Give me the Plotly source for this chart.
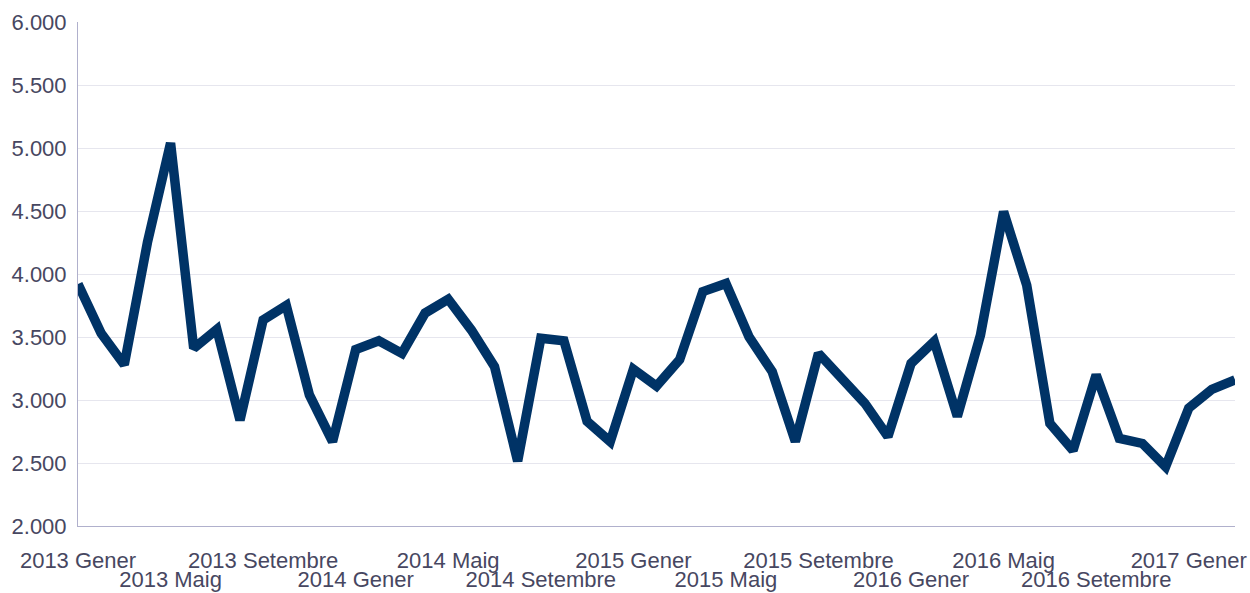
import plotly.graph_objects as go

month_names = ["Gener", "Febrer", "Març", "Abril", "Maig", "Juny", "Juliol",
               "Agost", "Setembre", "Octubre", "Novembre", "Desembre"]
years = [2013, 2014, 2015, 2016, 2017]
n_points = 51
categories = [f"{y} {m}" for y in years for m in month_names][:n_points]

values = [3920, 3530, 3280, 4250, 5040, 3410, 3560, 2840, 3635, 3750,
          3040, 2670, 3400, 3470, 3370, 3690, 3800, 3555, 3265, 2515,
          3490, 3470, 2830, 2670, 3245, 3110, 3320, 3860, 3925, 3500,
          3225, 2670, 3370, 3170, 2975, 2710, 3290, 3465, 2870, 3515,
          4495, 3910, 2815, 2600, 3200, 2695, 2655, 2470, 2935, 3085,
          3160]

tick_step = 4
tick_labels = categories[::tick_step]
row1_labels = tick_labels[0::2]
row2_labels = tick_labels[1::2]

y_ticks = [2000, 2500, 3000, 3500, 4000, 4500, 5000, 5500, 6000]

font_color = "#474761"
font_family = "Liberation Sans, Arial, sans-serif"
font_size = 22

fig = go.Figure()
fig.add_trace(go.Scatter(
    x=categories, y=values, mode="lines",
    line=dict(color="#003366", width=9.5),
    hoverinfo="skip", showlegend=False,
))
# invisible helper trace so the second label row shares the category scale
fig.add_trace(go.Scatter(
    x=categories, y=values, mode="lines", xaxis="x2",
    line=dict(color="rgba(0,0,0,0)", width=0),
    hoverinfo="skip", showlegend=False,
))

common_x = dict(
    type="category", range=[0, n_points - 1], tickmode="array",
    tickangle=0, showgrid=False, ticks="", zeroline=False, automargin=False,
    tickfont=dict(size=font_size, color=font_color, family=font_family),
)

fig.update_layout(
    width=1250, height=593,
    margin=dict(l=78, r=15, t=22, b=67),
    paper_bgcolor="white", plot_bgcolor="white",
    separators=",.",
    font=dict(family=font_family, size=font_size, color=font_color),
    xaxis=dict(**common_x, tickvals=row1_labels, ticktext=row1_labels,
               showline=True, linecolor="#b0b0cc", linewidth=1,
               ticklabelstandoff=15),
    xaxis2=dict(**common_x, tickvals=row2_labels, ticktext=row2_labels,
                overlaying="x", side="bottom", anchor="y", showline=False,
                ticklabelstandoff=38),
    yaxis=dict(
        range=[2000, 6000], tickmode="array", tickvals=y_ticks,
        tickformat=",d", showgrid=True, gridcolor="#e6e6ee", gridwidth=1,
        showline=True, linecolor="#b0b0cc", linewidth=1, ticks="",
        zeroline=False, automargin=False, ticklabelstandoff=6,
        tickfont=dict(size=font_size, color=font_color, family=font_family),
    ),
)

fig.write_html(
    "out.html",
    config={"displayModeBar": False},
    post_script="document.body.style.margin='0';document.body.style.overflow='hidden';",
)
